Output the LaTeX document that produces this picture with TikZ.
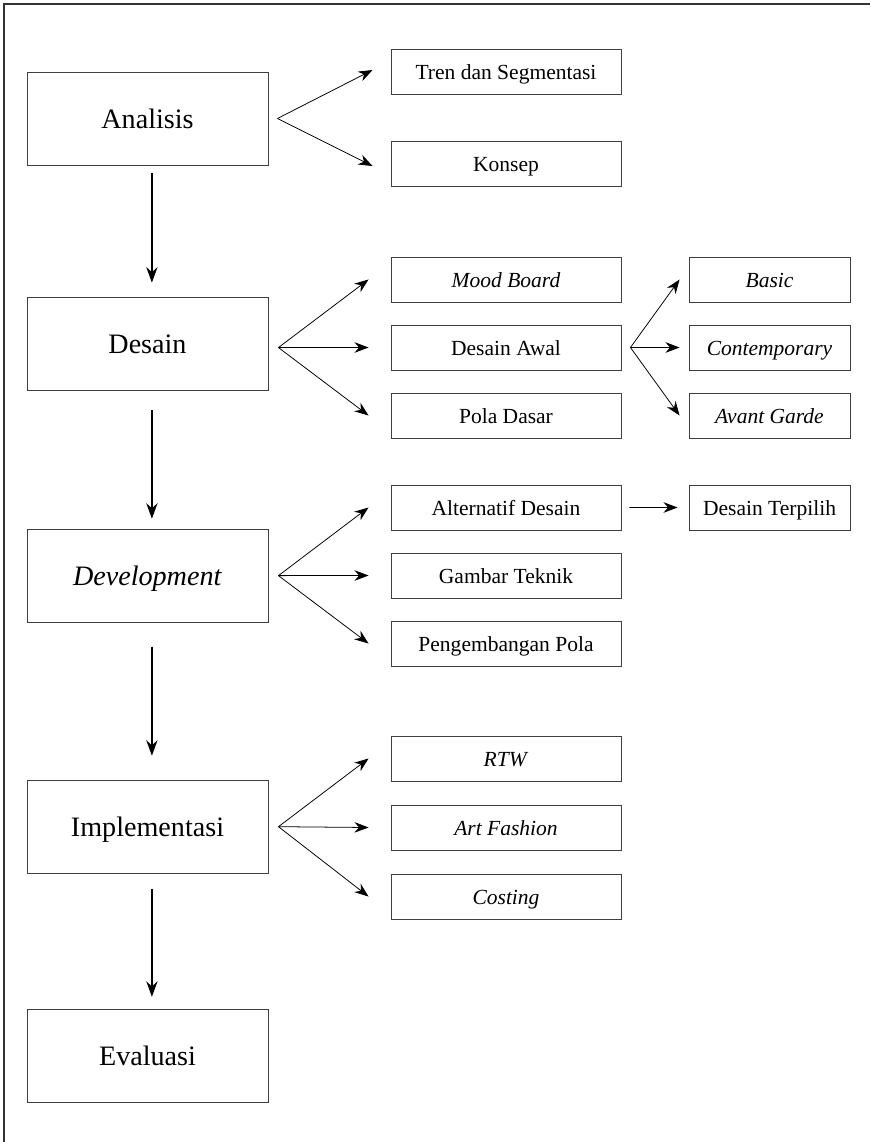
\documentclass[tikz,border=0pt]{standalone}
\usepackage{fontspec}
\setmainfont{Liberation Serif}
\usepackage{tikz}
\usetikzlibrary{arrows.meta}
\tikzstyle{mainbox} = [rectangle, minimum width=6.025cm, minimum height=2.325cm, inner sep=0pt, text height=17pt, text depth=3pt, text centered, draw=black!75, line width=0.6pt, font=\fontsize{20}{24}\selectfont]
\tikzstyle{subbox} = [rectangle, minimum width=5.75cm, minimum height=1.125cm, inner sep=0pt, text height=13pt, text depth=2pt, text centered, draw=black!75, line width=0.6pt, font=\fontsize{15.3}{18}\selectfont]
\tikzstyle{leafbox} = [rectangle, minimum width=4.025cm, minimum height=1.125cm, inner sep=0pt, text height=13pt, text depth=2pt, text centered, draw=black!75, line width=0.6pt, font=\fontsize{15.3}{18}\selectfont]
\tikzstyle{arrow} = [line width=1pt, -{Stealth[length=11pt,width=8pt]}]
\tikzstyle{fanarrow} = [line width=0.55pt, -{Stealth[length=10pt,width=7.5pt]}]
\tikzstyle{frame} = [line width=1pt, black!80]
\begin{document}
\begin{tikzpicture}[x=0.025cm, y=0.025cm, node distance=1.7cm]
	\useasboundingbox (0,0) rectangle (870,-1142);
	\draw [frame] (870,-4) -- (4,-4) -- (4,-1142);

	\node (analisis) [mainbox] at (147.5,-118.5) {Analisis};
	\node (desain) [mainbox, below of=analisis, node distance=5.8cm, yshift=0.175cm] {Desain};
	\node (development) [mainbox, below of=desain, node distance=5.8cm] {\textit{Development}};
	\node (implementasi) [mainbox, below of=development, node distance=5.8cm, yshift=-0.475cm] {Implementasi};
	\node (evaluasi) [mainbox, below of=implementasi, node distance=5.8cm, yshift=0.075cm] {Evaluasi};

	\node (tren) [subbox] at (506,-72) {Tren dan Segmentasi};
	\node (konsep) [subbox, below of=tren, node distance=2.3cm] {Konsep};

	\node (awal) [subbox] at (506,-347.5) {Desain Awal};
	\node (mood) [subbox, above of=awal] {\textit{Mood Board}};
	\node (pola) [subbox, below of=awal] {Pola Dasar};

	\node (contemporary) [leafbox] at (769.5,-347.5) {\textit{Contemporary}};
	\node (basic) [leafbox, above of=contemporary] {\textit{Basic}};
	\node (avant) [leafbox, below of=contemporary] {\textit{Avant Garde}};

	\node (gambar) [subbox] at (506,-575.5) {Gambar Teknik};
	\node (alternatif) [subbox, above of=gambar] {Alternatif Desain};
	\node (pengembangan) [subbox, below of=gambar] {Pengembangan Pola};
	\node (terpilih) [leafbox] at (769.5,-507.5) {Desain Terpilih};

	\node (artfashion) [subbox] at (506,-827.5) {\textit{Art Fashion}};
	\node (rtw) [subbox, above of=artfashion, node distance=1.725cm] {\textit{RTW}};
	\node (costing) [subbox, below of=artfashion, node distance=1.725cm] {\textit{Costing}};

	\coordinate (fanA) at ([xshift=0.225cm]analisis.east);
	\coordinate (fanD) at ([xshift=0.25cm, yshift=-0.1cm]desain.east);
	\coordinate (fanV) at ([xshift=0.25cm]development.east);
	\coordinate (fanI) at ([xshift=0.25cm]implementasi.east);
	\coordinate (fanW) at ([xshift=0.225cm]awal.east);

	\draw [arrow, shorten <=0.2cm, shorten >=0.35cm] ([xshift=0.11cm]analisis.south) -- ([xshift=0.11cm]desain.north);
	\draw [arrow, shorten <=0.5cm, shorten >=0.25cm] ([xshift=0.11cm]desain.south) -- ([xshift=0.11cm]development.north);
	\draw [arrow, shorten <=0.6cm, shorten >=0.6cm] ([xshift=0.11cm]development.south) -- ([xshift=0.11cm]implementasi.north);
	\draw [arrow, shorten <=0.375cm, shorten >=0.3cm] ([xshift=0.11cm]implementasi.south) -- ([xshift=0.11cm]evaluasi.north);

	\draw [fanarrow] (fanA) -- ([xshift=-0.45cm, yshift=0.05cm]tren.west);
	\draw [fanarrow] (fanA) -- ([xshift=-0.45cm, yshift=-0.05cm]konsep.west);

	\draw [fanarrow] (fanD) -- ([xshift=-0.55cm]mood.west);
	\draw [fanarrow] (fanD) -- ([xshift=-0.55cm]awal.west);
	\draw [fanarrow] (fanD) -- ([xshift=-0.55cm]pola.west);

	\draw [fanarrow] (fanW) -- ([xshift=-0.225cm]basic.west);
	\draw [fanarrow] (fanW) -- ([xshift=-0.225cm]contemporary.west);
	\draw [fanarrow] (fanW) -- ([xshift=-0.225cm]avant.west);

	\draw [fanarrow] (fanV) -- ([xshift=-0.55cm]alternatif.west);
	\draw [fanarrow] (fanV) -- ([xshift=-0.55cm]gambar.west);
	\draw [fanarrow] (fanV) -- ([xshift=-0.55cm]pengembangan.west);
	\draw [fanarrow] ([xshift=0.2cm]alternatif.east) -- ([xshift=-0.275cm]terpilih.west);

	\draw [fanarrow] (fanI) -- ([xshift=-0.55cm]rtw.west);
	\draw [fanarrow] (fanI) -- ([xshift=-0.55cm]artfashion.west);
	\draw [fanarrow] (fanI) -- ([xshift=-0.55cm]costing.west);
\end{tikzpicture}
\end{document}
